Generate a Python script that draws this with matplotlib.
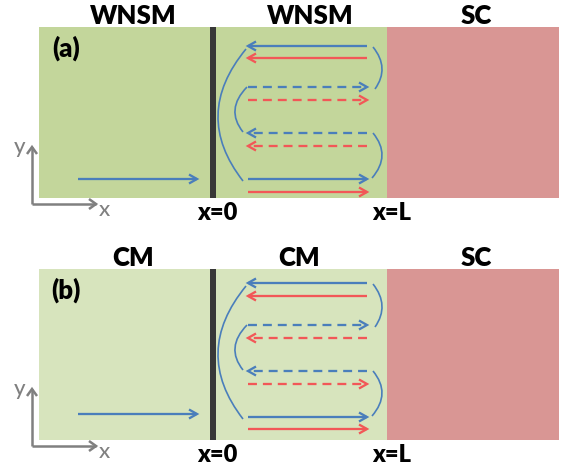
import matplotlib
matplotlib.use("Agg")
import matplotlib.pyplot as plt
from matplotlib.patches import Rectangle, PathPatch
from matplotlib.path import Path

plt.rcParams['font.family'] = ['Lato', 'DejaVu Sans']

# colours
green_a = "#c3d69b"
green_b = "#d7e4bd"
pink = "#d99694"
blue = "#4a7ebb"
red = "#f25757"
bar_col = "#383838"
gray = "#808080"

# panel layout (pixels, y downward)
panel_tops = [27, 269]
panel_bottoms = [198, 440]
region_labels = [["WNSM", "WNSM", "SC"], ["CM", "CM", "SC"]]
panel_tags = ["(a)", "(b)"]

# arrow rows inside x=0..L (pixel y of each row)
blue_rows = [[46, 87, 133, 179], [283, 325, 371, 417]]
red_rows = [[58, 100, 146, 192], [296, 338, 384, 429]]
blue_dirs = [-1, 1, -1, 1]
red_dirs = [[-1, 1, -1, 1], [-1, -1, 1, 1]]
row_styles = ["solid", "dashed", "dashed", "solid"]

# incoming arrow in the left region
incoming_y = [179, 414]

x_left, x_bar, x_L, x_right = 39, 213, 387, 559
arrow_x0, arrow_x1 = 248, 367
inc_x0, inc_x1 = 78, 197

fig = plt.figure(figsize=(5.63, 4.68), dpi=100)
ax = fig.add_axes([0, 0, 1, 1])
ax.set_xlim(0, 563)
ax.set_ylim(468, 0)
ax.axis("off")

LW = 1.65
DASH = (0, (3.9, 2.6))


def arrow(x0, x1, y0, y1, color, ls="solid", lw=LW, hl=8, hw=4.5):
    ax.plot([x0, x1], [y0, y1], color=color, lw=lw,
            linestyle=DASH if ls == "dashed" else "-", solid_capstyle="butt")
    dx, dy = x1 - x0, y1 - y0
    n = (dx ** 2 + dy ** 2) ** 0.5
    ux, uy = dx / n, dy / n
    px, py = -uy, ux
    ax.plot([x1 - ux * hl + px * hw, x1, x1 - ux * hl - px * hw],
            [y1 - uy * hl + py * hw, y1, y1 - uy * hl - py * hw],
            color=color, lw=lw, solid_joinstyle="miter", solid_capstyle="butt")


def arc(x0, y0, x1, y1, xpeak):
    ym = (y0 + y1) / 2
    cx = (xpeak - 0.25 * x0 - 0.25 * x1) * 2
    path = Path([(x0, y0), (cx, ym), (x1, y1)],
                [Path.MOVETO, Path.CURVE3, Path.CURVE3])
    ax.add_patch(PathPatch(path, fill=False, edgecolor=blue, lw=1.2))


for p in range(2):
    top, bot = panel_tops[p], panel_bottoms[p]
    green = green_a if p == 0 else green_b
    ax.add_patch(Rectangle((x_left, top), x_L - x_left, bot - top, color=green, lw=0))
    ax.add_patch(Rectangle((x_L, top), x_right - x_L, bot - top, color=pink, lw=0))
    ax.add_patch(Rectangle((x_bar - 3, top), 6, bot - top, color=bar_col, lw=0))

    # labels above regions
    for lab, xc in zip(region_labels[p], [133, 310 if p == 0 else 299, 476]):
        ax.text(xc, top - 11, lab, ha="center", va="center",
                fontsize=18.5, fontweight="heavy")
    ax.text(66, top + 21, panel_tags[p], ha="center", va="center",
            fontsize=18.5, fontweight="heavy")
    ax.text(217, bot + 15, "x=0", ha="center", va="center",
            fontsize=17, fontweight="heavy")
    ax.text(392, bot + 15, "x=L", ha="center", va="center",
            fontsize=17, fontweight="heavy")

    # coordinate icon
    ox, oy = 32, bot + 6
    arrow(ox, ox, oy, oy - 57, gray, lw=1.8, hl=7, hw=5)
    arrow(ox, 96, oy, oy, gray, lw=1.8, hl=7, hw=5)
    ax.text(20, oy - 57, "y", ha="center", va="center", fontsize=16,
            color=gray, fontweight="medium")
    ax.text(104, oy + 6, "x", ha="center", va="center", fontsize=16,
            color=gray, fontweight="medium")

    # incoming arrow
    arrow(inc_x0, inc_x1, incoming_y[p], incoming_y[p], blue)

    # reflected rows
    for i in range(4):
        for y, d, col in [(blue_rows[p][i], blue_dirs[i], blue),
                          (red_rows[p][i], red_dirs[p][i], red)]:
            if d > 0:
                arrow(arrow_x0, arrow_x1, y, y, col, row_styles[i])
            else:
                arrow(arrow_x1, arrow_x0, y, y, col, row_styles[i])

    b = blue_rows[p]
    arc(246, b[0] + 3, 243, b[3] + 2, 218)
    arc(247, b[1], 243, b[2] - 1, 235)
    arc(373, b[0] + 1, 375, b[1] + 2, 382)
    arc(373, b[2], 372, b[3] - 1, 382)

fig.savefig("out.png", dpi=100)
